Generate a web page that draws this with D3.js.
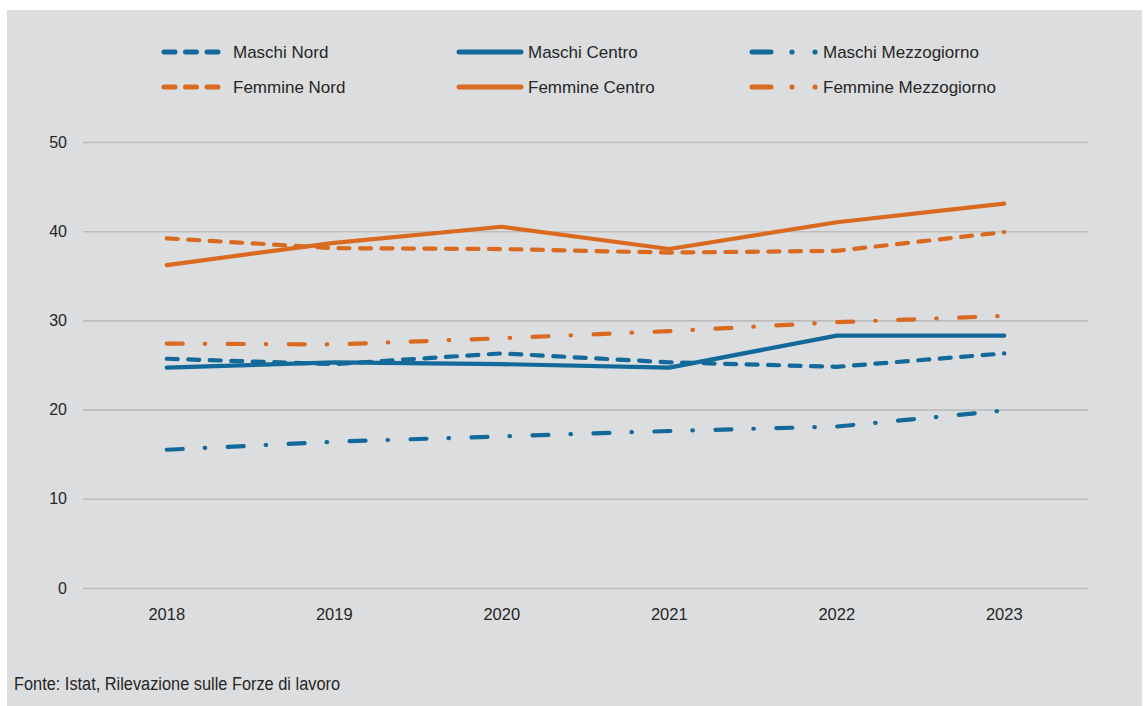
<!DOCTYPE html>
<html>
<head>
<meta charset="utf-8">
<script src="https://cdn.jsdelivr.net/npm/d3@7/dist/d3.min.js"></script>
<style>
  html, body { margin: 0; padding: 0; background: #ffffff; }
  svg { display: block; }
  text { font-family: "Liberation Sans", Arial, sans-serif; fill: #262626; }
</style>
</head>
<body>
<svg id="chart" width="1147" height="706"></svg>
<script>
// Anni osservati
const years = ["2018", "2019", "2020", "2021", "2022", "2023"];
const yTicks = [0, 10, 20, 30, 40, 50];

// Valori per serie (%)
const maschiNord        = [25.7, 25.1, 26.3, 25.3, 24.8, 26.3];
const maschiCentro      = [24.7, 25.3, 25.1, 24.7, 28.3, 28.3];
const maschiMezzogiorno = [15.5, 16.4, 17.0, 17.6, 18.1, 19.9];
const femmineNord       = [39.2, 38.1, 38.0, 37.6, 37.8, 39.9];
const femmineCentro     = [36.2, 38.7, 40.5, 38.0, 41.0, 43.1];
const femmineMezzogiorno= [27.4, 27.3, 28.0, 28.8, 29.8, 30.5];

const BLUE = "#12699a";
const ORANGE = "#d96a20";
const DASH = "11,10.5";
const DASHDOT = "16,22,0.5,22.5";

const series = [
  { name: "Maschi Nord",         values: maschiNord,         color: BLUE,   style: "dash" },
  { name: "Maschi Centro",       values: maschiCentro,       color: BLUE,   style: "solid" },
  { name: "Maschi Mezzogiorno",  values: maschiMezzogiorno,  color: BLUE,   style: "dashdot" },
  { name: "Femmine Nord",        values: femmineNord,        color: ORANGE, style: "dash" },
  { name: "Femmine Centro",      values: femmineCentro,      color: ORANGE, style: "solid" },
  { name: "Femmine Mezzogiorno", values: femmineMezzogiorno, color: ORANGE, style: "dashdot" }
];
const dashFor = s => s === "dash" ? DASH : s === "dashdot" ? DASHDOT : null;

const svg = d3.select("#chart");

// pannello di sfondo
svg.append("rect")
  .attr("x", 7).attr("y", 10)
  .attr("width", 1135).attr("height", 696)
  .attr("fill", "#dcdddf");

const plot = { left: 83, right: 1088, top: 142, bottom: 588 };

const x = d3.scaleBand().domain(years).range([plot.left, plot.right]).padding(0);
const y = d3.scaleLinear().domain([0, 50]).range([plot.bottom, plot.top]);

// griglia orizzontale ed etichette asse Y
const yAxis = d3.axisLeft(y)
  .tickValues(yTicks)
  .tickSize(-(plot.right - plot.left))
  .tickPadding(16)
  .tickFormat(d3.format("d"));

const gy = svg.append("g")
  .attr("transform", `translate(${plot.left},0)`)
  .call(yAxis);
gy.select(".domain").remove();
gy.selectAll(".tick line").attr("stroke", "#bdbdbd").attr("stroke-width", 1.6);
gy.selectAll(".tick text")
  .attr("font-size", 16)
  .attr("fill", "#262626")
  .style("font-family", "'Liberation Sans', Arial, sans-serif");

// etichette asse X
const xAxis = d3.axisBottom(x).tickSize(0).tickPadding(20);
const gx = svg.append("g")
  .attr("transform", `translate(0,${plot.bottom})`)
  .call(xAxis);
gx.select(".domain").remove();
gx.selectAll(".tick text")
  .attr("font-size", 16.5)
  .attr("fill", "#262626")
  .style("font-family", "'Liberation Sans', Arial, sans-serif");

// linee
const line = d3.line()
  .x((d, i) => x(years[i]) + x.bandwidth() / 2)
  .y(d => y(d));

// ordine di disegno: prima le serie arancioni poi quelle blu
const drawOrder = [3, 4, 5, 0, 2, 1];
drawOrder.forEach(k => {
  const s = series[k];
  svg.append("path")
    .datum(s.values)
    .attr("d", line)
    .attr("fill", "none")
    .attr("stroke", s.color)
    .attr("stroke-width", 4.2)
    .attr("stroke-linecap", "round")
    .attr("stroke-linejoin", "round")
    .attr("stroke-dasharray", dashFor(s.style));
});

// legenda
const legendCols = [
  { x1: 164, x2: 218, tx: 233 },
  { x1: 459, x2: 521, tx: 528 },
  { x1: 752, x2: 771, tx: 823 }
];
const legendRows = [52, 87];

series.forEach((s, i) => {
  const col = legendCols[i % 3];
  const row = legendRows[Math.floor(i / 3)];
  const g = svg.append("g");
  if (s.style === "dashdot") {
    g.append("line")
      .attr("x1", col.x1).attr("x2", col.x2)
      .attr("y1", row).attr("y2", row)
      .attr("stroke", s.color).attr("stroke-width", 5)
      .attr("stroke-linecap", "round");
    [792, 815].forEach(cx => {
      g.append("circle").attr("cx", cx).attr("cy", row).attr("r", 2.6).attr("fill", s.color);
    });
  } else {
    g.append("line")
      .attr("x1", col.x1).attr("x2", col.x2)
      .attr("y1", row).attr("y2", row)
      .attr("stroke", s.color).attr("stroke-width", 5)
      .attr("stroke-linecap", "round")
      .attr("stroke-dasharray", s.style === "dash" ? "11,10.5" : null);
  }
  g.append("text")
    .attr("x", col.tx).attr("y", row + 6)
    .attr("font-size", 17)
    .text(s.name);
});

// fonte (carattere condensato)
svg.append("text")
  .attr("x", 14).attr("y", 690)
  .attr("font-size", 18)
  .attr("textLength", 326)
  .attr("lengthAdjust", "spacingAndGlyphs")
  .style("font-family", "'Liberation Sans Narrow', 'Arial Narrow', 'Liberation Sans', sans-serif")
  .text("Fonte: Istat, Rilevazione sulle Forze di lavoro");
</script>
</body>
</html>
